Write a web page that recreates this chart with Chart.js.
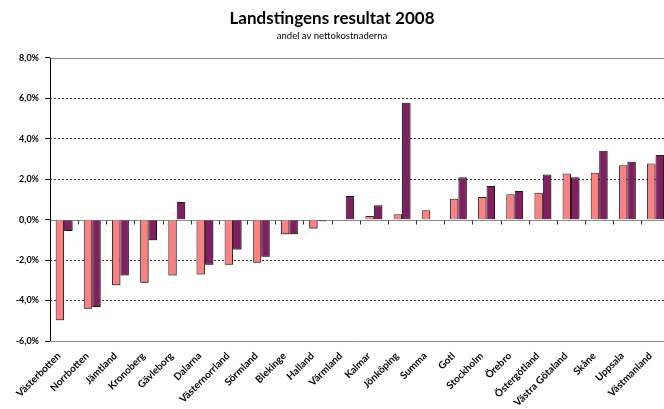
<!DOCTYPE html>
<html>
<head>
<meta charset="utf-8">
<script src="https://cdn.jsdelivr.net/npm/chart.js@4.4.1/dist/chart.umd.min.js"></script>
<style>
  html, body { margin:0; padding:0; background:#fff; overflow:hidden; }
  body { width:664px; height:409px; position:relative; }
  #wrap { position:absolute; left:-9px; top:0; width:682px; height:409px; }
</style>
</head>
<body>
<div id="wrap"><canvas id="c" width="682" height="409"></canvas></div>
<script>
// Data
const categories = ['Västerbotten','Norrbotten','Jämtland','Kronoberg','Gävleborg','Dalarna','Västernorrland','Sörmland','Blekinge','Halland','Värmland','Kalmar','Jönköping','Summa','Gotl','Stockholm','Örebro','Östergötland','Västra Götaland','Skåne','Uppsala','Västmanland'];
const seriesA = [-4.98,-4.40,-3.25,-3.12,-2.76,-2.71,-2.23,-2.13,-0.72,-0.44,0,0.18,0.26,0.46,1.03,1.12,1.25,1.33,2.28,2.32,2.69,2.78];
const seriesB = [-0.56,-4.32,-2.76,-1.02,0.87,-2.23,-1.48,-1.84,-0.72,-0.08,1.17,0.71,5.78,null,2.10,1.66,1.41,2.23,2.10,3.40,2.86,3.19];
const yTicks = [-6,-4,-2,0,2,4,6,8];

const FONT = 'Lato, "DejaVu Sans", sans-serif';
const solidAt = [0, 8, -6];

// solid lines (zero, top, bottom) + category ticks on the zero line
const axisLines = {
  id:'axisLines',
  beforeDatasetsDraw(chart){
    const {ctx, chartArea:a, scales:{x, y}} = chart;
    ctx.save();
    ctx.strokeStyle = '#8c8c8c';
    ctx.lineWidth = 1;
    solidAt.forEach(v=>{
      const py = Math.round(y.getPixelForValue(v)) + 0.5;
      ctx.beginPath(); ctx.moveTo(a.left, py); ctx.lineTo(a.right, py); ctx.stroke();
    });
    const y0 = Math.round(y.getPixelForValue(0)) + 0.5;
    ctx.strokeStyle = '#333';
    for(let i=1;i<categories.length;i++){
      const px = Math.round((x.getPixelForValue(i-1) + x.getPixelForValue(i))/2) + 0.5;
      ctx.beginPath(); ctx.moveTo(px, y0); ctx.lineTo(px, y0+4); ctx.stroke();
    }
    ctx.restore();
    ctx.save();
    ctx.shadowColor = 'rgba(0,0,0,0.35)';
    ctx.shadowOffsetX = 1;
    ctx.shadowOffsetY = 1;
    ctx.shadowBlur = 1;
  },
  afterDatasetsDraw(chart){
    chart.ctx.restore();
    // left axis on top
    const {ctx, chartArea:a} = chart;
    ctx.save();
    ctx.strokeStyle = '#000';
    ctx.beginPath(); ctx.moveTo(a.left+0.5, a.top); ctx.lineTo(a.left+0.5, a.bottom); ctx.stroke();
    ctx.restore();
  }
};

new Chart(document.getElementById('c'), {
  type:'bar',
  data:{
    labels: categories,
    datasets:[
      { label:'A', data: seriesA, backgroundColor:'#ff8080', borderColor:'#2a2a2a', borderWidth:1 },
      { label:'B', data: seriesB, backgroundColor:'#841e62', borderColor:'#1a1a1a', borderWidth:1 }
    ]
  },
  options:{
    responsive:false,
    animation:false,
    datasets:{ bar:{ categoryPercentage:0.6, barPercentage:1.0 } },
    layout:{ padding:{ left:0, right:0, top:0, bottom:0 } },
    plugins:{
      legend:{ display:false },
      tooltip:{ enabled:false },
      title:{ display:true, text:'Landstingens resultat 2008', color:'#000',
        font:{ family:FONT, size:17, weight:'bold' }, padding:{ top:8, bottom:2 } },
      subtitle:{ display:true, text:'andel av nettokostnaderna', color:'#000',
        font:{ family:FONT, size:9.5 }, padding:{ top:0, bottom:16 } }
    },
    scales:{
      x:{
        grid:{ display:false, drawTicks:false },
        border:{ display:false },
        ticks:{ autoSkip:false, minRotation:45, maxRotation:45, color:'#000', padding:9, labelOffset:-5,
          font:{ family:FONT, size:10, weight:'bold' } },
        afterFit(s){ s.height = 68; }
      },
      y:{
        min:-6, max:8,
        afterBuildTicks(s){ s.ticks = yTicks.map(v=>({value:v})); },
        grid:{ color:c => solidAt.includes(c.tick && c.tick.value) ? 'rgba(0,0,0,0)' : '#3a3a3a',
          tickColor:'#000', tickLength:5, drawTicks:true },
        border:{ display:false, dash:[2,2] },
        ticks:{ color:'#000', padding:6, font:{ family:FONT, size:9, weight:'bold' },
          callback:v => v.toFixed(1).replace('.', ',') + '%' },
        afterFit(s){ s.width = 59; }
      }
    }
  },
  plugins:[axisLines]
});
</script>
</body>
</html>
